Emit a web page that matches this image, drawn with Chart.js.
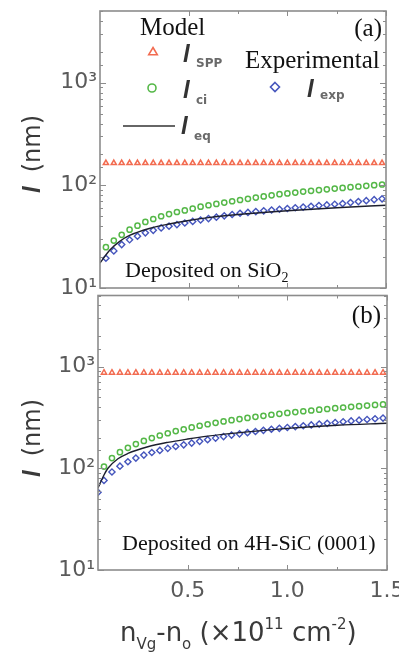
<!DOCTYPE html>
<html>
<head>
<meta charset="utf-8">
<script src="https://cdn.jsdelivr.net/npm/chart.js@4.4.1/dist/chart.umd.min.js"></script>
<style>
  body { margin: 0; background: #fff; }
  #wrap { position: relative; width: 399px; height: 658px; overflow: hidden; }
  canvas { position: absolute; left: 0; }
  #panelA { top: 0; }
  #panelB { top: 290px; }
</style>
</head>
<body>
<div id="wrap">
  <canvas id="panelA" width="399" height="300"></canvas>
  <canvas id="panelB" width="399" height="368"></canvas>
</div>
<script>
// carrier density (x10^11 cm^-2) of the sampled points
const xPoints = [0.08, 0.12, 0.16, 0.20, 0.24, 0.28, 0.32, 0.36, 0.40, 0.44, 0.48, 0.52,
  0.56, 0.60, 0.64, 0.68, 0.72, 0.76, 0.80, 0.84, 0.88, 0.92, 0.96, 1.00,
  1.04, 1.08, 1.12, 1.16, 1.20, 1.24, 1.28, 1.32, 1.36, 1.40, 1.44, 1.48];

// (a) SiO2
const aSpp = [165, 165, 165, 165, 165, 165, 165, 165, 165, 165, 165, 165,
  165, 165, 165, 165, 165, 165, 165, 165, 165, 165, 165, 165,
  165, 165, 165, 165, 165, 165, 165, 165, 165, 165, 165, 165];
const aCi = [25, 29, 33, 37, 40.5, 44, 47, 50, 52.5, 55, 57, 59.5,
  62, 64, 66, 68, 70, 72, 74, 76, 78, 80, 82, 83.5,
  85, 87, 88.5, 90, 91.5, 93, 94.5, 96, 97.5, 99, 100.5, 102];
const aExp = [19.5, 23, 26.5, 29.5, 32, 34.5, 36.5, 38.5, 40, 41.5, 43, 44.5,
  46, 47.5, 49, 50.5, 52, 53.5, 54.5, 55.5, 56.5, 57.5, 58.5, 59.5,
  60.5, 61.5, 62.5, 63.5, 64.5, 65.5, 66.5, 68, 69.5, 71, 72.5, 74];
const aEqX = [0.05, 0.08, 0.1, 0.15, 0.2, 0.3, 0.4, 0.5, 0.6, 0.75, 1.0, 1.25, 1.5];
const aEq = [17.5, 21, 23.5, 28.5, 32.5, 38, 42, 45.5, 48.5, 52, 56.5, 60.5, 64];

// (b) 4H-SiC (0001)
const bSpp = [870, 870, 870, 870, 870, 870, 870, 870, 870, 870, 870, 870,
  870, 870, 870, 870, 870, 870, 870, 870, 870, 870, 870, 870,
  870, 870, 870, 870, 870, 870, 870, 870, 870, 870, 870, 870];
const bCi = [104, 126, 144, 159, 173, 186, 198, 210, 221, 232, 242, 252,
  262, 271, 280, 289, 297, 305, 313, 321, 328, 336, 343, 350,
  357, 364, 370, 377, 383, 390, 396, 402, 408, 414, 420, 425];
const bExpX = [0.05].concat(xPoints);
const bExp = [58, 76, 92, 105, 116, 126, 135, 143, 150, 157, 164, 170, 177,
  184, 191, 198, 205, 212, 218, 224, 230, 236, 242, 247, 252,
  257, 262, 267, 272, 277, 282, 287, 292, 297, 302, 307, 312];
const bEqX = [0.05, 0.08, 0.1, 0.15, 0.2, 0.3, 0.4, 0.5, 0.6, 0.8, 1.0, 1.25, 1.5];
const bEq = [64, 86, 100, 124, 140, 163, 180, 194, 207, 228, 247, 265, 277];

const yTickLabels = { 10: '10\u00b9', 100: '10\u00b2', 1000: '10\u00b3' };

const SPP_COLOR = '#f26b50';
const CI_COLOR = '#55b848';
const EXP_COLOR = '#4656bd';
const EQ_COLOR = '#1d1f2e';
const AXIS_COLOR = '#8c8c8c';
const SANS = '"DejaVu Sans"';
const SERIF = '"Liberation Serif"';

function pts(xs, ys) {
  return xs.map((x, i) => ({ x: x, y: ys[i] }));
}

function makeDatasets(spp, ci, expX, exp, eqX, eq) {
  return [
    {
      label: 'l_eq', data: pts(eqX, eq), showLine: true, borderColor: EQ_COLOR,
      borderWidth: 1.4, pointRadius: 0, cubicInterpolationMode: 'monotone', fill: false
    },
    {
      label: 'l_exp', data: pts(expX, exp), pointStyle: 'rectRot', pointRadius: 3.1,
      borderColor: EXP_COLOR, borderWidth: 1.4, backgroundColor: 'rgba(255,255,255,0)'
    },
    {
      label: 'l_ci', data: pts(xPoints, ci), pointStyle: 'circle', pointRadius: 2.6,
      borderColor: CI_COLOR, borderWidth: 1.5, backgroundColor: 'rgba(255,255,255,0)'
    },
    {
      label: 'l_SPP', data: pts(xPoints, spp), pointStyle: 'triangle', pointRadius: 3,
      borderColor: SPP_COLOR, borderWidth: 1.5, backgroundColor: 'rgba(255,255,255,0)'
    }
  ];
}

// box around the plot plus inward tick marks
const axisFrame = {
  id: 'axisFrame',
  afterDatasetsDraw(chart) {
    const { ctx, chartArea: a, scales } = chart;
    ctx.save();
    ctx.strokeStyle = AXIS_COLOR;
    ctx.lineWidth = 1;
    ctx.beginPath();
    scales.y.ticks.forEach(t => {
      const y = Math.round(scales.y.getPixelForValue(t.value)) + 0.5;
      const l = Math.log10(t.value);
      const len = Math.abs(l - Math.round(l)) < 1e-6 ? 6 : 3;
      ctx.moveTo(a.left, y); ctx.lineTo(a.left + len, y);
      ctx.moveTo(a.right - len, y); ctx.lineTo(a.right, y);
    });
    scales.x.ticks.forEach(t => {
      if (Math.abs(t.value * 4 - Math.round(t.value * 4)) > 1e-6) return;
      const x = Math.round(scales.x.getPixelForValue(t.value)) + 0.5;
      const len = Math.abs(t.value * 2 - Math.round(t.value * 2)) < 1e-6 ? 5 : 3;
      ctx.moveTo(x, a.bottom); ctx.lineTo(x, a.bottom - len);
      ctx.moveTo(x, a.top); ctx.lineTo(x, a.top + len);
    });
    ctx.stroke();
    ctx.lineWidth = 1.6;
    ctx.strokeRect(a.left, a.top, a.right - a.left, a.bottom - a.top);
    ctx.restore();
  }
};

function drawYTitle(ctx, x, y) {
  ctx.save();
  ctx.translate(x, y);
  ctx.rotate(-Math.PI / 2);
  ctx.textBaseline = 'alphabetic';
  ctx.fillStyle = '#3a3a3a';
  ctx.font = 'italic bold 24px "Liberation Sans"';
  const wl = ctx.measureText('l').width;
  ctx.font = '24px ' + SANS;
  const wn = ctx.measureText('(nm)').width;
  const start = -(wl + 14 + wn) / 2;
  ctx.font = 'italic bold 24px "Liberation Sans"';
  ctx.fillText('l', start, 0);
  ctx.font = '24px ' + SANS;
  ctx.fillText('(nm)', start + wl + 14, 0);
  ctx.restore();
}

function drawSymbol(ctx, x, y, sub, subDy) {
  ctx.fillStyle = '#333';
  ctx.font = 'italic bold 24px "Liberation Sans"';
  ctx.fillText('l', x, y);
  ctx.fillStyle = '#6a6a6a';
  ctx.font = 'bold 12px ' + SANS;
  ctx.fillText(sub, x + 13, y + subDy);
}

function drawMarker(ctx, style, color, x, y, r) {
  ctx.save();
  ctx.strokeStyle = color;
  ctx.lineWidth = 1.6;
  ctx.beginPath();
  if (style === 'triangle') {
    ctx.moveTo(x, y - r);
    ctx.lineTo(x + r * 0.95, y + r * 0.6);
    ctx.lineTo(x - r * 0.95, y + r * 0.6);
    ctx.closePath();
  } else if (style === 'circle') {
    ctx.arc(x, y, r, 0, Math.PI * 2);
  } else {
    ctx.moveTo(x, y - r); ctx.lineTo(x + r, y); ctx.lineTo(x, y + r); ctx.lineTo(x - r, y);
    ctx.closePath();
  }
  ctx.stroke();
  ctx.restore();
}

function drawSub(ctx, text, sub, x, y, size) {
  ctx.font = size + 'px ' + SERIF;
  ctx.fillText(text, x, y);
  const w = ctx.measureText(text).width;
  ctx.font = Math.round(size * 0.62) + 'px ' + SERIF;
  ctx.fillText(sub, x + w, y + 5);
}

const textsA = {
  id: 'textsA',
  afterDraw(chart) {
    const ctx = chart.ctx;
    ctx.save();
    ctx.textAlign = 'left';
    ctx.textBaseline = 'alphabetic';
    ctx.fillStyle = '#111';
    ctx.font = '25px ' + SERIF;
    ctx.fillText('Model', 140, 35);
    ctx.fillText('Experimental', 245, 68);
    ctx.textAlign = 'right';
    ctx.fillText('(a)', 382, 36);
    ctx.textAlign = 'left';
    drawSub(ctx, 'Deposited on SiO', '2', 125, 277, 22);
    drawMarker(ctx, 'triangle', SPP_COLOR, 153, 52, 4.5);
    drawMarker(ctx, 'circle', CI_COLOR, 152, 88, 4);
    drawMarker(ctx, 'diamond', EXP_COLOR, 275, 87, 4.5);
    ctx.strokeStyle = '#333';
    ctx.lineWidth = 1.3;
    ctx.beginPath();
    ctx.moveTo(123, 126); ctx.lineTo(175, 126);
    ctx.stroke();
    drawSymbol(ctx, 183, 62, 'SPP', 5);
    drawSymbol(ctx, 183, 98, 'ci', 6);
    drawSymbol(ctx, 181, 134, 'eq', 6);
    drawSymbol(ctx, 307, 97, 'exp', 2);
    drawYTitle(ctx, 40, 154);
    ctx.restore();
  }
};

const textsB = {
  id: 'textsB',
  afterDraw(chart) {
    const ctx = chart.ctx;
    ctx.save();
    ctx.textBaseline = 'alphabetic';
    ctx.fillStyle = '#111';
    ctx.font = '25px ' + SERIF;
    ctx.textAlign = 'right';
    ctx.fillText('(b)', 381, 33);
    ctx.textAlign = 'left';
    ctx.font = '22px ' + SERIF;
    ctx.fillText('Deposited on 4H-SiC (0001)', 122, 260);
    drawYTitle(ctx, 40, 148);

    // x axis title with sub/superscripts
    const parts = [
      ['n', 0], ['Vg', 1], ['-n', 0], ['o', 1], [' (\u00d710', 0],
      ['11', 2], [' cm', 0], ['-2', 2], [')', 0]
    ];
    let x = 120;
    const base = 351;
    ctx.fillStyle = '#3a3a3a';
    parts.forEach(p => {
      ctx.font = (p[1] === 0 ? '26px ' : '15px ') + SANS;
      const dy = p[1] === 1 ? 8 : (p[1] === 2 ? -12 : 0);
      ctx.fillText(p[0], x, base + dy);
      x += ctx.measureText(p[0]).width;
    });
    ctx.restore();
  }
};

function yAxis(width) {
  return {
    type: 'logarithmic',
    min: 10,
    max: 5000,
    ticks: {
      autoSkip: false,
      padding: 3,
      color: '#5a5a5a',
      font: { family: SANS, size: 22 },
      callback: v => {
        const k = Math.round(v);
        return Math.abs(v - k) < 1e-6 && yTickLabels[k] ? yTickLabels[k] : '';
      }
    },
    grid: { display: false, drawTicks: false },
    border: { display: false },
    afterFit: s => { s.width = width; s.paddingTop = 0; s.paddingBottom = 0; }
  };
}

document.addEventListener('DOMContentLoaded', () => {
  // Panel (a)
  new Chart(document.getElementById('panelA').getContext('2d'), {
    type: 'scatter',
    data: { datasets: makeDatasets(aSpp, aCi, xPoints, aExp, aEqX, aEq) },
    options: {
      responsive: false,
      animation: false,
      layout: { padding: { top: 11, right: 13, bottom: 12, left: 0 } },
      plugins: { legend: { display: false }, tooltip: { enabled: false } },
      scales: {
        x: {
          type: 'linear', min: 0.05, max: 1.5,
          ticks: { display: false, stepSize: 0.25, autoSkip: false },
          grid: { display: false, drawTicks: false },
          border: { display: false },
          afterFit: s => { s.height = 0; s.paddingLeft = 0; s.paddingRight = 0; }
        },
        y: yAxis(100)
      }
    },
    plugins: [axisFrame, textsA]
  });

  // Panel (b)
  new Chart(document.getElementById('panelB').getContext('2d'), {
    type: 'scatter',
    data: { datasets: makeDatasets(bSpp, bCi, bExpX, bExp, bEqX, bEq) },
    options: {
      responsive: false,
      animation: false,
      layout: { padding: { top: 5, right: 12, bottom: 0, left: 0 } },
      plugins: { legend: { display: false }, tooltip: { enabled: false } },
      scales: {
        x: {
          type: 'linear', min: 0.05, max: 1.5,
          ticks: {
            stepSize: 0.25, autoSkip: false, maxRotation: 0, minRotation: 0,
            padding: 8, color: '#5a5a5a', font: { family: SANS, size: 22 },
            callback: v => (Math.abs(v * 2 - Math.round(v * 2)) < 1e-6 ? v.toFixed(1) : '')
          },
          grid: { display: false, drawTicks: false },
          border: { display: false },
          afterFit: s => { s.height = 88; s.paddingLeft = 0; s.paddingRight = 0; }
        },
        y: yAxis(98)
      }
    },
    plugins: [axisFrame, textsB]
  });
});
</script>
</body>
</html>
